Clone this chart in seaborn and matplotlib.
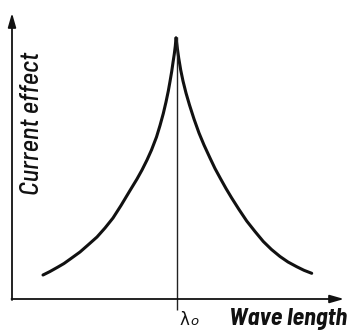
import numpy as np
import pandas as pd
import matplotlib
matplotlib.use("Agg")
import matplotlib.pyplot as plt
import seaborn as sns

# values (origin at the axis corner, units ~ pixels)
left_wavelength = [31, 38, 46, 52, 59, 68, 76, 85, 93, 101, 109, 118, 125, 130, 135, 139.5,
                   144.5, 148, 151.3, 154, 156.3, 158, 159.7, 161, 162.3, 163.3, 164]
left_effect = [24, 27.5, 32, 35.5, 40.5, 47, 54, 62, 71, 81, 93.5, 108.5, 120, 129, 139, 149,
               162, 173.5, 185.5, 197, 208, 217.5, 227.5, 236.5, 245, 253, 261]
right_wavelength = [164, 165.3, 166.7, 168.7, 171, 174, 177.5, 182, 187, 192, 198, 203, 208.7,
                    214, 219.7, 227, 234.7, 243, 251.3, 259.5, 268, 276, 284.7, 292, 299.7]
right_effect = [261, 251, 241, 229, 218, 206, 194, 180, 166, 154, 141, 130.5, 120, 110.5, 101,
                89.5, 78, 67.5, 57.5, 49.5, 42.5, 37, 32.3, 28.7, 25.7]
peak_wavelength = 164.7
peak_effect = 262
x_axis_len = 332
y_axis_len = 286

sns.set_theme(style="white")

df = pd.concat([
    pd.DataFrame({"wavelength": left_wavelength, "effect": left_effect, "branch": "left"}),
    pd.DataFrame({"wavelength": right_wavelength, "effect": right_effect, "branch": "right"}),
])

fig = plt.figure(figsize=(3.49, 3.36), dpi=100)
ax = fig.add_axes([0, 0, 1, 1])
sns.lineplot(data=df, x="wavelength", y="effect", hue="branch", palette=["#111111", "#111111"],
             sort=False, linewidth=2.2, legend=False, ax=ax, estimator=None)
ax.vlines(peak_wavelength, -11, peak_effect, color="#222222", linewidth=1.0)

arrow = dict(arrowstyle="-|>,head_length=0.7,head_width=0.2", color="#111111", lw=1.3,
             shrinkA=0, shrinkB=0)
ax.annotate("", xy=(x_axis_len, 0), xytext=(-0.5, 0), arrowprops=arrow)
ax.annotate("", xy=(0, y_axis_len), xytext=(0, -1), arrowprops=arrow)

ax.set_xlim(-12, 337)
ax.set_ylim(-37, 299)
ax.axis("off")

narrow = ["Barlow Semi Condensed", "Barlow Condensed", "DejaVu Sans"]
ax.text(20, 176, "Current effect", rotation=90, ha="center", va="center", fontsize=19,
        fontstyle="italic", fontweight="medium", family=narrow, color="#111111")
ax.text(167, -26, "λ", ha="left", va="baseline", fontsize=12, color="#111111")
ax.text(178, -26, "o", ha="left", va="baseline", fontsize=9.5, fontstyle="italic",
        color="#111111")
ax.text(335, -26, "Wave length", ha="right", va="baseline", fontsize=17.5, fontweight="bold",
        fontstyle="italic", family=narrow, color="#111111")

fig.savefig("out.png", dpi=100)
